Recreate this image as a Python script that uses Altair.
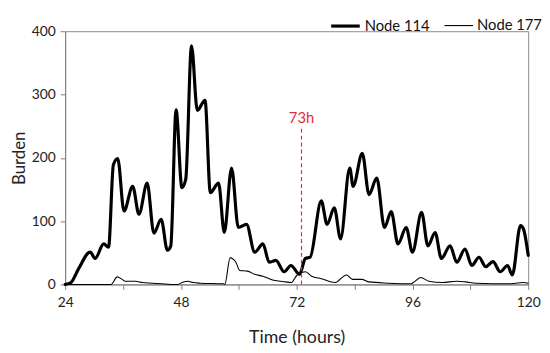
import altair as alt
import pandas as pd

# Node 114 (thick line)
t114 = [24, 25.2, 26.8, 29.2, 30.2, 32.0, 33.0, 34.0, 34.9, 36.2, 38.0, 39.3, 41.0, 42.4, 43.9, 45.2, 45.9,
        47.0, 48.2, 49.0, 50.2, 51.4, 53.0, 54.1, 55.8, 57.0, 58.5, 59.9, 61.6, 63.3, 65.0, 66.3, 67.7,
        69.4, 70.8, 72.6, 73.8, 74.8, 77.1, 78.3, 79.8, 81.1, 83.0, 83.7, 85.6, 87.0, 88.6, 90.2, 91.6,
        93.0, 94.7, 96.0, 97.9, 99.2, 100.7, 102.0, 103.8, 105.2, 106.9, 108.3, 109.8, 111.2, 112.7,
        114.2, 115.7, 116.7, 118.4, 119.0, 120]
v114 = [0, 3, 25, 51, 41, 64, 59, 189, 199, 116, 155, 111, 160, 81, 103, 54, 61,
        276, 153, 166, 377, 275, 291, 145, 160, 82, 184, 90, 95, 51, 64, 35, 38,
        20, 30, 16, 41, 43, 132, 95, 121, 72, 184, 155, 207, 142, 168, 90, 115,
        64, 90, 51, 114, 61, 82, 41, 61, 35, 56, 30, 43, 28, 36,
        20, 30, 15, 93, 88, 46]

# Node 177 (thin line)
t177 = [24, 33.5, 34.8, 35.8, 36.5, 38.5, 40, 42, 44, 46, 47.3, 48.5, 49.5, 50.5, 52, 56.9, 57.1,
        58.2, 59.4, 60.2, 61.8, 63.3, 65, 67, 69.7, 70.9, 72.1, 73.8, 75.1, 77.1, 80, 82.3, 83.6,
        85.5, 87, 91, 95.5, 96.2, 97.7, 99.4, 102.2, 105.2, 107, 109.2, 115.8, 119, 120]
v177 = [0, 0, 12, 8, 5, 5, 3, 2, 1, 0, 0, 4, 5, 3, 2, 1, 0,
        42, 35, 22, 21, 16, 13, 7, 4, 3, 15, 20, 13, 9, 3, 15, 8,
        8, 4, 2, 1, 3, 11, 5, 3, 5, 4, 2, 1, 3, 2]

series = ["Node 114", "Node 177"]
x_ticks = list(range(24, 121, 6))
y_ticks = list(range(0, 401, 50))
marker_x = 73
marker_label = "73h"

df = pd.concat([
    pd.DataFrame({"t": t114, "v": v114, "s": series[0]}),
    pd.DataFrame({"t": t177, "v": v177, "s": series[1]}),
])

FONT = "Lato"

x_enc = alt.X("t:Q", scale=alt.Scale(domain=[24, 120], nice=False, zero=False),
              axis=alt.Axis(values=x_ticks, labelExpr="datum.value % 24 == 0 ? datum.label : ''",
                            title="Time (hours)", grid=False, tickSize=5, labelPadding=6,
                            labelFlush=False, labelOverlap=False,
                            labelFontSize=14, titleFontSize=18, titleFontWeight="normal",
                            titlePadding=20, labelColor="#222", titleColor="#222",
                            domainColor="#7f7f7f", tickColor="#7f7f7f", labelFont=FONT, titleFont=FONT))
y_enc = alt.Y("v:Q", scale=alt.Scale(domain=[0, 400], nice=False),
              axis=alt.Axis(values=y_ticks, labelExpr="datum.value % 100 == 0 ? datum.label : ''",
                            title="Burden", grid=False, tickSize=5, labelPadding=5,
                            labelFlush=False, labelOverlap=False,
                            labelFontSize=14, titleFontSize=17, titleFontWeight="normal",
                            titlePadding=3, labelColor="#222", titleColor="#222",
                            domainColor="#7f7f7f", tickColor="#7f7f7f", labelFont=FONT, titleFont=FONT))

lines = alt.Chart(df).mark_line(interpolate="monotone", color="black", strokeCap="round").encode(
    x=x_enc, y=y_enc,
    strokeWidth=alt.StrokeWidth("s:N", scale=alt.Scale(domain=series, range=[3.2, 1.1]),
                                legend=alt.Legend(title=None, orient="none", legendX=268, legendY=-22,
                                                  direction="horizontal", symbolType="stroke",
                                                  symbolStrokeColor="black", symbolSize=841,
                                                  labelFontSize=15, labelFont=FONT, labelColor="#111",
                                                  columnPadding=12, symbolOffset=0, labelOffset=3)),
    detail="s:N",
)

rule_df = pd.DataFrame({"t": [marker_x], "y0": [0], "y1": [250], "lab": [marker_label], "ly": [263]})
rule = alt.Chart(rule_df).mark_rule(color="#e0303c", strokeDash=[4, 3], strokeWidth=1.2).encode(
    x="t:Q", y="y0:Q", y2="y1:Q")
label = alt.Chart(rule_df).mark_text(color="#e0303c", fontSize=15, font=FONT, baseline="middle").encode(
    x="t:Q", y="ly:Q", text="lab:N")

chart = alt.layer(lines, rule, label).properties(
    width=470, height=257,
    autosize=alt.AutoSizeParams(type="none"),
    padding={"left": 58, "top": 21, "right": 14, "bottom": 67},
).configure_view(stroke="#8a8a8a", strokeWidth=1)

chart.save("out.html", embed_options={"renderer": "svg", "actions": False})
